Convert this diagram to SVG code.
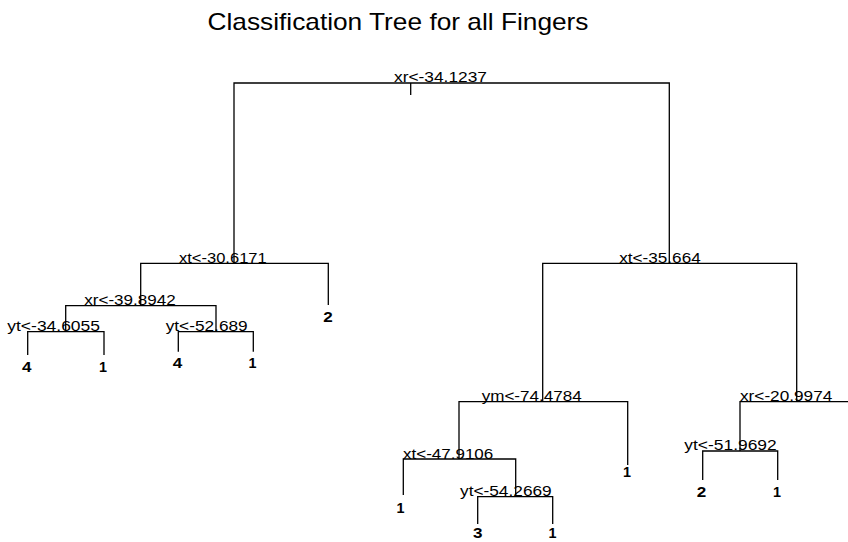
<svg xmlns="http://www.w3.org/2000/svg" width="848" height="542" viewBox="0 0 848 542">
<style>
text{font-family:"Liberation Sans",Arial,sans-serif;fill:#000}
.t{font-size:24px}
.s{font-size:14px}
.l{font-size:14px;font-weight:bold;text-anchor:middle}
.c{fill:none;stroke:#000;stroke-width:1.3}
</style>
<rect width="848" height="542" fill="#fff"/>
<text id="title" class="t" x="207.5" y="30" textLength="381" lengthAdjust="spacingAndGlyphs">Classification Tree for all Fingers</text>
<g id="connectors" class="c">
<path d="M410.7,83V95M234,263.3V83H669.3V263.3"/>
<path d="M140.7,305.7V263.3H328.3V305"/>
<path d="M65.7,331.7V305.7H216V331.7"/>
<path d="M27.7,355V331.7H104V355"/>
<path d="M178.3,351.7V331.7H253.3V351.7"/>
<path d="M542.7,401.7V263.3H796.7V401.7"/>
<path d="M459,459V401.7H627.7V465"/>
<path d="M403.3,495V459H515.7V496.7"/>
<path d="M477.7,524V496.7H552.7V524"/>
<path d="M740,451V401.7H850"/>
<path d="M702.7,480V451H777.7V480"/>
</g>
<g id="n_root"><text class="s" x="394" y="82" textLength="93" lengthAdjust="spacingAndGlyphs">xr&lt;-34.1237</text></g>
<g id="n_xt30"><text class="s" x="179" y="262.5" textLength="87.7" lengthAdjust="spacingAndGlyphs">xt&lt;-30.6171</text></g>
<g id="n_xr39"><text class="s" x="84.3" y="305" textLength="91.4" lengthAdjust="spacingAndGlyphs">xr&lt;-39.8942</text></g>
<g id="n_yt34"><text class="s" x="7.3" y="330.7" textLength="92.7" lengthAdjust="spacingAndGlyphs">yt&lt;-34.6055</text></g>
<g id="n_yt52"><text class="s" x="165.7" y="330.7" textLength="82" lengthAdjust="spacingAndGlyphs">yt&lt;-52.689</text></g>
<g id="n_xt35"><text class="s" x="619.3" y="262.5" textLength="81.4" lengthAdjust="spacingAndGlyphs">xt&lt;-35.664</text></g>
<g id="n_ym74"><text class="s" x="481.7" y="401" textLength="100" lengthAdjust="spacingAndGlyphs">ym&lt;-74.4784</text></g>
<g id="n_xt47"><text class="s" x="403" y="458.5" textLength="90.3" lengthAdjust="spacingAndGlyphs">xt&lt;-47.9106</text></g>
<g id="n_yt54"><text class="s" x="460" y="496" textLength="91.7" lengthAdjust="spacingAndGlyphs">yt&lt;-54.2669</text></g>
<g id="n_xr20"><text class="s" x="740" y="401" textLength="92.3" lengthAdjust="spacingAndGlyphs">xr&lt;-20.9974</text></g>
<g id="n_yt51"><text class="s" x="684.3" y="450.3" textLength="92.4" lengthAdjust="spacingAndGlyphs">yt&lt;-51.9692</text></g>
<g id="leaf1"><text class="l" x="328" y="321.7" textLength="9.5" lengthAdjust="spacingAndGlyphs">2</text></g>
<g id="leaf2"><text class="l" x="26.7" y="371.7" textLength="9.5" lengthAdjust="spacingAndGlyphs">4</text></g>
<g id="leaf3"><text class="l" x="103" y="371.7" textLength="8" lengthAdjust="spacingAndGlyphs">1</text></g>
<g id="leaf4"><text class="l" x="177.5" y="368" textLength="9.5" lengthAdjust="spacingAndGlyphs">4</text></g>
<g id="leaf5"><text class="l" x="252.5" y="368" textLength="8" lengthAdjust="spacingAndGlyphs">1</text></g>
<g id="leaf6"><text class="l" x="627" y="476.7" textLength="8" lengthAdjust="spacingAndGlyphs">1</text></g>
<g id="leaf7"><text class="l" x="400.5" y="513" textLength="8" lengthAdjust="spacingAndGlyphs">1</text></g>
<g id="leaf8"><text class="l" x="477.7" y="537.5" textLength="9.5" lengthAdjust="spacingAndGlyphs">3</text></g>
<g id="leaf9"><text class="l" x="552.5" y="537.5" textLength="8" lengthAdjust="spacingAndGlyphs">1</text></g>
<g id="leaf10"><text class="l" x="701.5" y="496.7" textLength="9.5" lengthAdjust="spacingAndGlyphs">2</text></g>
<g id="leaf11"><text class="l" x="777" y="496.7" textLength="8" lengthAdjust="spacingAndGlyphs">1</text></g>
</svg>
